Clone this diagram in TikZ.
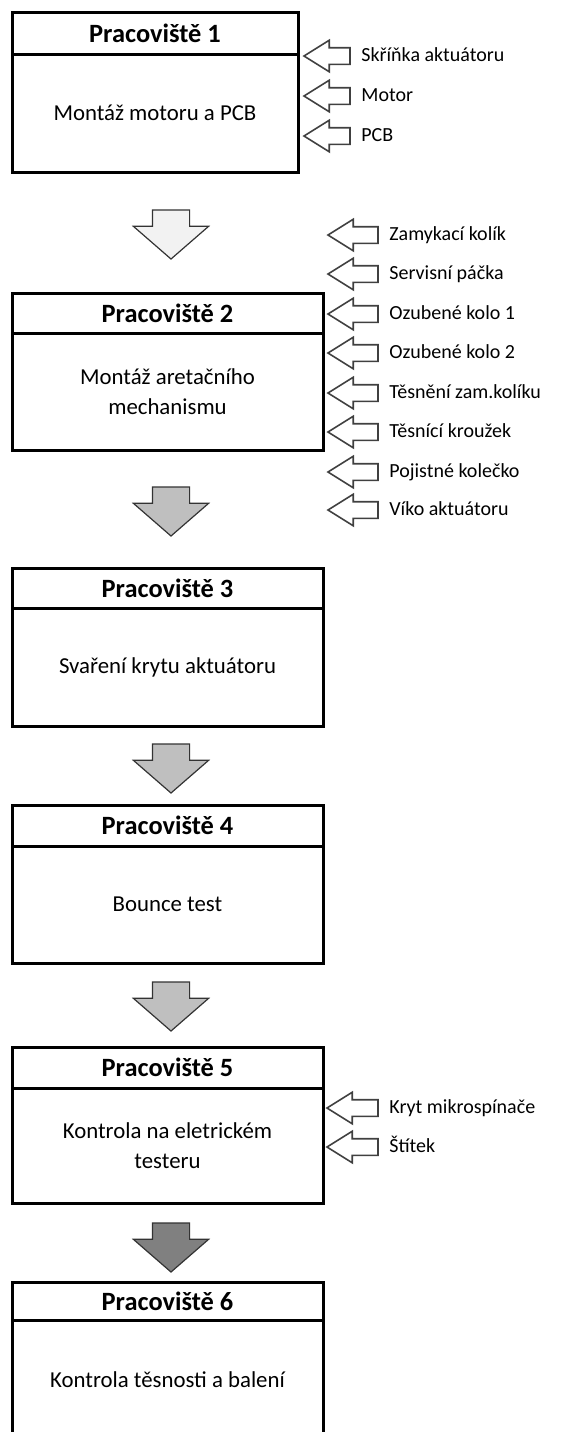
\documentclass[tikz,border=0pt]{standalone}
\usepackage{fontspec}
\setmainfont{Carlito}
\usetikzlibrary{shapes.arrows, positioning}

\tikzset{
  head/.style={draw, line width=1.5pt, inner sep=0pt, outer sep=0pt,
    font=\fontsize{13.2}{15}\selectfont\bfseries},
  body/.style={draw, line width=1.5pt, inner sep=0pt, outer sep=0pt, align=center,
    font=\fontsize{11.4}{15}\selectfont},
  down/.style={single arrow, draw=black!80, line width=0.6pt, shape border rotate=270,
    minimum height=24.5pt, minimum width=37pt, single arrow head extend=9.5pt,
    single arrow tip angle=98, inner xsep=9pt, inner ysep=0pt, outer sep=0pt, anchor=tail},
  feed/.style={single arrow, draw=black!75, fill=white, line width=0.8pt,
    shape border rotate=180, minimum width=15pt, single arrow head extend=3.75pt,
    single arrow tip angle=64, inner xsep=0pt, inner ysep=3.75pt, outer sep=0pt, anchor=tip},
  part/.style={inner sep=0pt, font=\fontsize{10}{11}\selectfont,
    text height=7pt, text depth=2pt}
}

\begin{document}
\begin{tikzpicture}[x=0.5pt, y=-0.5pt]
\useasboundingbox (0,0) rectangle (565,1432);

% workplaces
\node[head, anchor=north west, minimum width=143pt, minimum height=21pt] at (12,12) (h1) {Pracoviště 1};
\node[body, below=0pt of h1, minimum width=143pt, minimum height=59pt] (b1) {Montáž motoru a PCB};

\node[head, anchor=north west, minimum width=155.5pt, minimum height=20pt] at (12,293) (h2) {Pracoviště 2};
\node[body, below=0pt of h2, minimum width=155.5pt, minimum height=58.5pt] (b2) {Montáž aretačního\\mechanismu};

\node[head, anchor=north west, minimum width=155.5pt, minimum height=20pt] at (12,568) (h3) {Pracoviště 3};
\node[body, below=0pt of h3, minimum width=155.5pt, minimum height=59pt] (b3) {Svaření krytu aktuátoru};

\node[head, anchor=north west, minimum width=155.5pt, minimum height=20.5pt] at (12,805) (h4) {Pracoviště 4};
\node[body, below=0pt of h4, minimum width=155.5pt, minimum height=58.5pt] (b4) {Bounce test};

\node[head, anchor=north west, minimum width=155.5pt, minimum height=20.5pt] at (12,1047) (h5) {Pracoviště 5};
\node[body, below=0pt of h5, minimum width=155.5pt, minimum height=57.5pt] (b5) {Kontrola na eletrickém\\testeru};

\node[head, anchor=north west, minimum width=155.5pt, minimum height=19pt] at (12,1282) (h6) {Pracoviště 6};
\node[body, below=0pt of h6, minimum width=155.5pt, minimum height=60pt] (b6) {Kontrola těsnosti a balení};

% flow between workplaces
\node[down, fill=black!5] at (171,210) (d1) {};
\node[down, fill=black!25] at (171,487) (d2) {};
\node[down, fill=black!25] at (171,744) (d3) {};
\node[down, fill=black!25] at (171,982) (d4) {};
\node[down, fill=black!50] at (171,1223) (d5) {};

% parts for workplace 1
\node[feed, minimum height=23pt] at (304,56) (i1) {};
\node[feed, minimum height=23pt] at (304,96) (i2) {};
\node[feed, minimum height=23pt] at (304,136) (i3) {};
\node[part, right=5.5pt of i1.tail] (c1) {Skříňka aktuátoru};
\node[part, right=5.5pt of i2.tail] (c2) {Motor};
\node[part, right=5.5pt of i3.tail] (c3) {PCB};

% parts for workplace 2
\node[feed, minimum height=25pt] at (328,235) (i4) {};
\node[feed, minimum height=25pt] at (328,274) (i5) {};
\node[feed, minimum height=25pt] at (328,314) (i6) {};
\node[feed, minimum height=25pt] at (328,353) (i7) {};
\node[feed, minimum height=25pt] at (328,393) (i8) {};
\node[feed, minimum height=25pt] at (328,432) (i9) {};
\node[feed, minimum height=25pt] at (328,472) (i10) {};
\node[feed, minimum height=25pt] at (328,510) (i11) {};
\node[part, right=5.5pt of i4.tail] (c4) {Zamykací kolík};
\node[part, right=5.5pt of i5.tail] (c5) {Servisní páčka};
\node[part, right=5.5pt of i6.tail] (c6) {Ozubené kolo 1};
\node[part, right=5.5pt of i7.tail] (c7) {Ozubené kolo 2};
\node[part, right=5.5pt of i8.tail] (c8) {Těsnění zam.kolíku};
\node[part, right=5.5pt of i9.tail] (c9) {Těsnící kroužek};
\node[part, right=5.5pt of i10.tail] (c10) {Pojistné kolečko};
\node[part, right=5.5pt of i11.tail] (c11) {Víko aktuátoru};

% parts for workplace 5
\node[feed, minimum height=25.5pt] at (327,1108) (i12) {};
\node[feed, minimum height=25.5pt] at (327,1147) (i13) {};
\node[part, right=5.5pt of i12.tail] (c12) {Kryt mikrospínače};
\node[part, right=5.5pt of i13.tail] (c13) {Štítek};
\end{tikzpicture}
\end{document}
